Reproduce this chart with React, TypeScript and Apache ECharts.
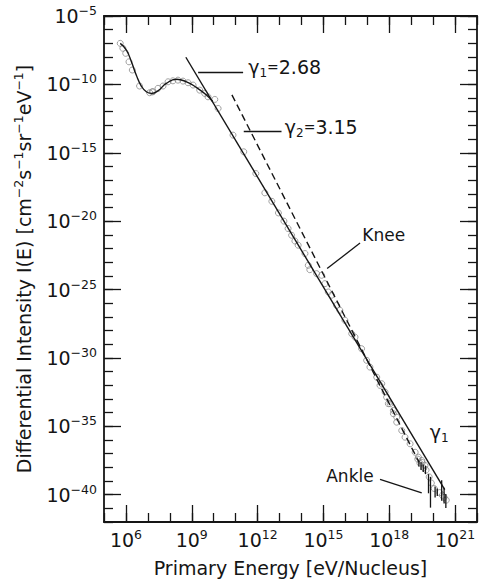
import React, { useEffect, useRef } from 'react';
import * as echarts from 'echarts';

const FONT = 'DejaVu Sans';
const INK = '#151515';

// Axis extents in decades: log10(E / eV) and log10(I)
const LOG_E_RANGE = [5, 22];
const LOG_I_RANGE = [-42, -5];
const LOG_E_LABELS = [6, 9, 12, 15, 18, 21];
const LOG_I_LABELS = [-40, -35, -30, -25, -20, -15, -10, -5];

// Spectral indices of the two power-law fits
const GAMMA1 = 2.68;
const GAMMA2 = 3.15;

// Each fit is a straight line of slope -gamma in log-log space through a pivot
const FIT_GAMMA1 = { gamma: GAMMA1, pivot: [12, -16.78], span: [8.73, 20.53] };
const FIT_GAMMA2 = { gamma: GAMMA2, pivot: [17, -30.2], span: [10.83, 19.35] };

// Solar-modulated low-energy spectrum (smooth curve)
const SOLAR_CURVE: [number, number][] = [
  [5.74, -7.0], [6.02, -7.49], [6.25, -8.35], [6.47, -9.32], [6.7, -10.12],
  [6.93, -10.54], [7.16, -10.66], [7.46, -10.47], [7.84, -9.93], [8.3, -9.63],
  [8.76, -9.81], [9.21, -10.22], [9.67, -10.78], [9.95, -11.25],
];

// Measured fluxes [log10 E, log10 I]
const FLUX_LOW_ENERGY: [number, number][] = [
  [5.74, -7.0], [5.86, -7.36], [5.99, -7.73], [6.14, -8.35], [6.29, -8.95],
  [6.62, -10.12], [7.08, -10.61], [7.2, -10.54], [7.23, -10.54], [7.46, -10.29],
  [7.69, -10.12], [7.92, -9.81], [8.14, -9.74], [8.37, -9.69], [8.6, -9.76],
  [8.83, -9.88], [9.06, -10.05], [9.36, -10.42], [9.59, -10.66], [9.74, -10.91],
  [10.05, -11.1], [10.2, -11.76],
];

const FLUX_KNEE_REGION: [number, number][] = [
  [10.88, -13.71], [11.37, -14.93], [11.92, -16.52], [12.33, -17.93], [12.65, -18.55],
  [12.95, -19.4], [13.2, -20.0], [13.39, -20.54], [13.55, -21.03], [13.7, -21.45],
  [13.85, -21.76], [14.16, -22.37], [14.31, -23.23], [14.38, -23.55], [14.69, -23.84],
  [14.92, -23.96], [15.07, -24.57], [15.22, -25.18], [15.37, -25.42], [15.6, -26.16],
  [15.75, -26.52], [15.98, -27.25], [16.29, -28.23], [16.44, -28.48], [16.74, -29.33],
  [16.97, -30.18], [17.12, -30.67], [17.43, -31.41], [17.58, -32.01], [17.66, -31.89],
  [17.81, -32.5], [17.88, -32.87], [17.96, -33.35], [18.04, -33.35], [18.19, -33.84],
  [18.19, -34.08], [18.34, -34.33], [18.34, -34.7], [18.57, -35.31], [18.72, -35.8],
  [18.95, -36.28], [19.18, -36.9],
];

const FLUX_ANKLE_REGION: [number, number][] = [
  [19.3, -37.4], [19.33, -37.26], [19.4, -37.7], [19.48, -37.5], [19.5, -37.65],
  [19.58, -38.05], [19.63, -37.87], [19.68, -38.2], [19.82, -38.7], [19.92, -39.15],
  [20.05, -39.55], [20.3, -39.85], [20.42, -40.05], [20.5, -40.2], [20.6, -40.4],
];

// Ankle error bars [log10 E, lower, upper]
const ANKLE_ERRORS: [number, number, number][] = [
  [19.35, -37.95, -37.5], [19.45, -38.2, -37.6], [19.55, -38.35, -37.8],
  [19.65, -38.5, -37.9], [19.79, -39.9, -38.5], [19.88, -40.95, -38.7],
  [20.09, -40.2, -39.4], [20.19, -40.1, -39.55], [20.39, -40.45, -38.95],
  [20.5, -40.65, -39.5], [20.58, -40.97, -39.95],
];

const fitLine = (f: { gamma: number; pivot: number[]; span: number[] }) =>
  f.span.map((x) => [x, f.pivot[1] - f.gamma * (x - f.pivot[0])]);

const labelRich = {
  g: { fontFamily: FONT, fontSize: 19, lineHeight: 24, color: INK, verticalAlign: 'middle' },
  eq: { fontFamily: FONT, fontSize: 14, lineHeight: 24, color: INK, verticalAlign: 'middle' },
  sub: { fontFamily: FONT, fontSize: 12, lineHeight: 10, color: INK, verticalAlign: 'bottom' },
  t: { fontFamily: FONT, fontSize: 17, lineHeight: 22, color: INK, verticalAlign: 'middle' },
};

// Text annotations and their leader lines, in axis units
const ANNOTATIONS = [
  { at: [11.57, -8.73], text: `{g|γ}{sub|1}{eq|=}{g|${GAMMA1.toFixed(2)}}`, align: 'left' },
  { at: [13.24, -13.09], text: `{g|γ}{sub|2}{eq|=}{g|${GAMMA2.toFixed(2)}}`, align: 'left' },
  { at: [17.75, -21.0], text: '{t|Knee}', align: 'center' },
  { at: [20.28, -35.45], text: '{g|γ}{sub|1}', align: 'center' },
  { at: [16.21, -38.64], text: '{t|Ankle}', align: 'center' },
];
const LEADERS = [
  [[9.29, -9.08], [11.34, -9.08]],
  [[11.37, -13.4], [13.09, -13.4]],
  [[15.17, -23.47], [16.67, -21.6]],
  [[17.58, -38.89], [19.48, -39.87]],
];

const powerRich = {
  b: { fontFamily: FONT, fontSize: 19, lineHeight: 24, color: INK, verticalAlign: 'middle' },
  s: { fontFamily: FONT, fontSize: 12.5, lineHeight: 12, color: INK, verticalAlign: 'top' },
};
const powerLabel = (v: number) => {
  const n = Math.round(v);
  return `{b|10}{s|${n < 0 ? '\u2212' + Math.abs(n) : String(n)}}`;
};

const axisLine = { show: true, onZero: false, lineStyle: { color: INK, width: 1.8 } };
const tickStyle = { color: INK, width: 1.3 };

function makeXAxis(position: 'top' | 'bottom', major: boolean) {
  return {
    type: 'value',
    position,
    min: LOG_E_RANGE[0],
    max: LOG_E_RANGE[1],
    interval: 1,
    axisLine: major ? { show: false } : axisLine,
    axisTick: major
      ? { show: true, inside: true, length: 17, lineStyle: tickStyle, customValues: LOG_E_LABELS }
      : { show: true, inside: true, length: 9, lineStyle: tickStyle },
    axisLabel:
      major && position === 'bottom'
        ? { show: true, customValues: LOG_E_LABELS, formatter: powerLabel, rich: powerRich, margin: 6, hideOverlap: false }
        : { show: false },
    splitLine: { show: false },
    ...(major && position === 'bottom'
      ? {
          name: 'Primary Energy [eV/Nucleus]',
          nameLocation: 'middle',
          nameGap: 36,
          nameTextStyle: { fontFamily: FONT, fontSize: 19, color: INK },
        }
      : {}),
  };
}

function makeYAxis(position: 'left' | 'right', major: boolean) {
  return {
    type: 'value',
    position,
    min: LOG_I_RANGE[0],
    max: LOG_I_RANGE[1],
    interval: 1,
    axisLine: major ? { show: false } : axisLine,
    axisTick: major
      ? { show: true, inside: true, length: 17, lineStyle: tickStyle, customValues: LOG_I_LABELS }
      : { show: true, inside: true, length: 9, lineStyle: tickStyle },
    axisLabel:
      major && position === 'left'
        ? { show: true, customValues: LOG_I_LABELS, formatter: powerLabel, rich: powerRich, margin: 7, hideOverlap: false }
        : { show: false },
    splitLine: { show: false },
  };
}

export default function App() {
  const ref = useRef<HTMLDivElement>(null);

  useEffect(() => {
    if (!ref.current) return;
    const chart = echarts.init(ref.current, null, { renderer: 'svg' });

    const option = {
      animation: false,
      backgroundColor: '#ffffff',
      textStyle: { fontFamily: FONT },
      grid: { left: 104, right: 4, top: 16, bottom: 58, containLabel: false, outerBoundsMode: 'none' },
      xAxis: [
        makeXAxis('bottom', false),
        makeXAxis('bottom', true),
        makeXAxis('top', false),
        makeXAxis('top', true),
      ],
      yAxis: [
        makeYAxis('left', false),
        makeYAxis('left', true),
        makeYAxis('right', false),
        makeYAxis('right', true),
      ],
      graphic: [
        {
          type: 'text',
          x: 23.5,
          y: 269,
          rotation: Math.PI / 2,
          silent: true,
          style: {
            text: '{m|Differential Intensity I(E) [cm}{s|\u22122}{m|s}{s|\u22121}{m|sr}{s|\u22121}{m|eV}{s|\u22121}{m|]}',
            align: 'center',
            verticalAlign: 'middle',
            rich: {
              m: { fontFamily: FONT, fontSize: 19, lineHeight: 24, fill: INK, color: INK, verticalAlign: 'middle' },
              s: { fontFamily: FONT, fontSize: 12.5, lineHeight: 12, fill: INK, color: INK, verticalAlign: 'top' },
            },
          },
        },
      ],
      series: [
        {
          name: 'measured',
          type: 'scatter',
          data: [...FLUX_LOW_ENERGY, ...FLUX_KNEE_REGION, ...FLUX_ANKLE_REGION],
          symbol: 'circle',
          symbolSize: 6,
          itemStyle: { color: 'rgba(255,255,255,0)', borderColor: '#7d7d7d', borderWidth: 0.9 },
          silent: true,
          z: 3,
        },
        {
          name: 'solar modulated',
          type: 'line',
          data: SOLAR_CURVE,
          smooth: 0.5,
          showSymbol: false,
          symbol: 'none',
          lineStyle: { color: INK, width: 1.4 },
          silent: true,
          z: 4,
        },
        {
          name: 'gamma1 fit',
          type: 'line',
          data: fitLine(FIT_GAMMA1),
          showSymbol: false,
          symbol: 'none',
          lineStyle: { color: INK, width: 1.4 },
          silent: true,
          z: 4,
        },
        {
          name: 'gamma2 fit',
          type: 'line',
          data: fitLine(FIT_GAMMA2),
          showSymbol: false,
          symbol: 'none',
          lineStyle: { color: INK, width: 1.4, type: [7, 4] },
          silent: true,
          z: 4,
        },
        {
          name: 'errors',
          type: 'custom',
          data: ANKLE_ERRORS,
          silent: true,
          z: 5,
          renderItem: (params: any, api: any) => {
            const x = api.value(0);
            const lo = api.coord([x, api.value(1)]);
            const hi = api.coord([x, api.value(2)]);
            return {
              type: 'line',
              shape: { x1: lo[0], y1: lo[1], x2: hi[0], y2: hi[1] },
              style: { stroke: INK, lineWidth: 1.3 },
            };
          },
        },
        {
          name: 'leaders',
          type: 'lines',
          coordinateSystem: 'cartesian2d',
          data: LEADERS.map((coords) => ({ coords })),
          lineStyle: { color: INK, width: 1.3, opacity: 1, curveness: 0 },
          symbol: 'none',
          silent: true,
          z: 5,
        },
        {
          name: 'annotations',
          type: 'scatter',
          symbol: 'circle',
          symbolSize: 0,
          silent: true,
          z: 6,
          data: ANNOTATIONS.map((a) => ({
            value: a.at,
            label: {
              show: true,
              formatter: a.text,
              rich: labelRich,
              color: INK,
              opacity: 1,
              textBorderWidth: 0,
              position: a.align === 'left' ? 'right' : 'inside',
              distance: 0,
            },
          })),
          itemStyle: { color: INK, opacity: 1 },
        },
      ],
    };

    chart.setOption(option as any);
    return () => chart.dispose();
  }, []);

  return (
    <div
      ref={ref}
      style={{ position: 'absolute', left: 0, top: 0, width: 481, height: 580, background: '#fff' }}
    />
  );
}
